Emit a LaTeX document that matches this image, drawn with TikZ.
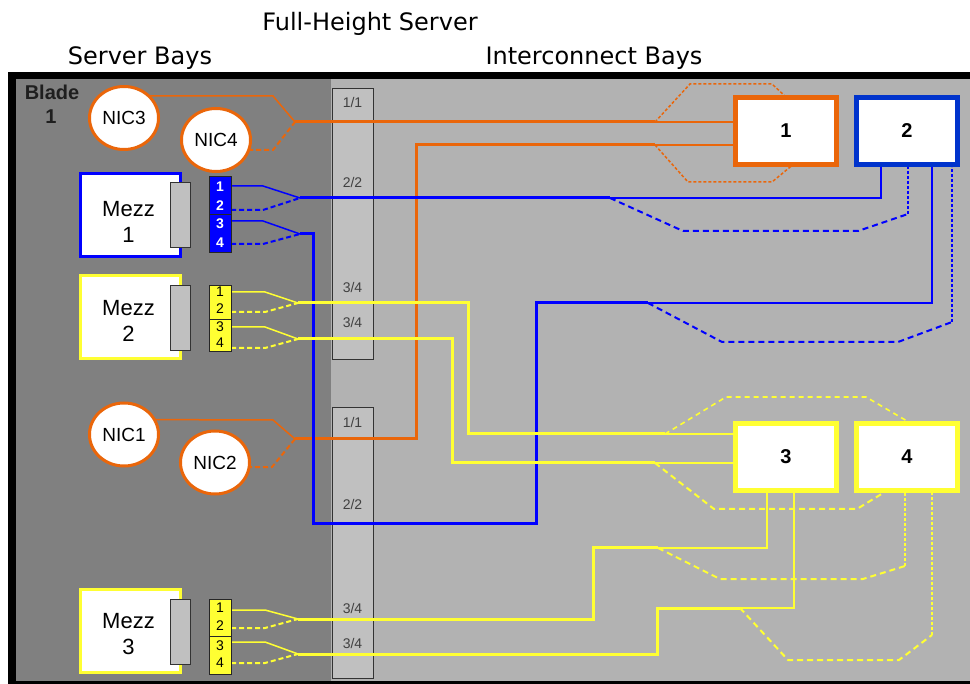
\documentclass[tikz,border=0pt]{standalone}
\usepackage{fontspec}
\setmainfont{Liberation Sans}
\newfontfamily\titlefont{DejaVu Sans}
\usetikzlibrary{shapes.geometric}
\pgfdeclarelayer{bg}
\pgfdeclarelayer{wires}
\pgfsetlayers{bg,wires,main}
\definecolor{orng}{RGB}{234,102,10}
\definecolor{bluL}{RGB}{0,0,255}
\definecolor{bluB}{RGB}{0,51,204}
\definecolor{yel}{RGB}{255,255,51}
\definecolor{dgray}{RGB}{128,128,128}
\definecolor{lgray}{RGB}{178,178,178}
\definecolor{sgray}{RGB}{192,192,192}
\tikzset{
  title/.style={inner sep=0pt, font=\titlefont\fontsize{24}{24}\selectfont},
  bladetxt/.style={inner sep=0pt, text=black!88, font=\bfseries\fontsize{20}{20}\selectfont},
  nic/.style={ellipse, draw=orng, line width=3pt, fill=white, minimum width=69pt, minimum height=63pt, inner sep=0pt, font=\fontsize{19}{19}\selectfont},
  mezzbox/.style={rectangle, line width=3pt, fill=white, minimum width=100pt, minimum height=83pt, inner sep=0pt},
  mezztxt/.style={inner sep=0pt, align=center, font=\fontsize{22}{26}\selectfont},
  mezzconn/.style={rectangle, draw=black!80, fill=sgray, line width=1pt, minimum width=20pt, minimum height=65pt, inner sep=0pt},
  portblk/.style={rectangle, draw=black!85, line width=1pt, minimum width=22pt, inner sep=0pt},
  portnum/.style={inner sep=0pt, font=\fontsize{14}{14}\selectfont},
  bay/.style={rectangle, line width=5pt, fill=white, minimum width=101pt, minimum height=67pt, inner sep=0pt, font=\bfseries\fontsize{20}{20}\selectfont},
  strip/.style={rectangle, draw=black!80, fill=sgray, line width=1pt, minimum width=41pt, minimum height=271pt, inner sep=0pt},
  striplbl/.style={inner sep=0pt, text=black!75, font=\fontsize{14}{14}\selectfont},
  thk/.style={line width=3pt},
  thn/.style={line width=1.5pt},
  pdash/.style={line width=2pt, dash pattern=on 5pt off 3pt},
  fdash/.style={line width=2pt, dash pattern=on 6pt off 4pt},
  mdash/.style={line width=1.6pt, dash pattern=on 5pt off 4pt},
  vdash/.style={line width=1.4pt, dash pattern=on 3pt off 2pt},
  odot/.style={line width=1.5pt, dash pattern=on 3pt off 2pt}
}
\begin{document}
\begin{tikzpicture}[x=1pt,y=-1pt]
\useasboundingbox (0,0) rectangle (970,684);
\begin{pgfonlayer}{bg}
  \fill[white] (0,0) rectangle (970,684);
  \fill[black] (8,72) rectangle (970,684);
  \fill[dgray] (16,79) rectangle (331,681);
  \fill[lgray] (331,79) rectangle (970,681);
  \node[strip] (stripA) at (352.5,224) {};
  \node[strip] (stripB) at (352.5,543) {};
\end{pgfonlayer}

% titles
\node[title, anchor=base] (tfull) at (370,31) {Full-Height Server};
\node[title, anchor=base] (tsrv) at (140,65) {Server Bays};
\node[title, anchor=base] (tic) at (594,65) {Interconnect Bays};
\node[bladetxt, anchor=base] (blade) at (52,100) {Blade};
\node[bladetxt, anchor=base] (bladen) at (51,124) {1};

% strip labels
\node[striplbl] (s1) at (352.5,102) {1/1};
\node[striplbl] (s2) at (352.5,182) {2/2};
\node[striplbl] (s3) at (352.5,287) {3/4};
\node[striplbl] (s4) at (352.5,322) {3/4};
\node[striplbl] (s5) at (352.5,422) {1/1};
\node[striplbl] (s6) at (352.5,504) {2/2};
\node[striplbl] (s7) at (352.5,608) {3/4};
\node[striplbl] (s8) at (352.5,643) {3/4};

% NICs
\node[nic] (nic3) at (124,118) {NIC3};
\node[nic] (nic4) at (216,140) {NIC4};
\node[nic] (nic1) at (124,434.5) {NIC1};
\node[nic] (nic2) at (215,462.5) {NIC2};

% Mezz cards
\node[mezzbox, draw=bluL] (mezz1) at (130.5,215) {};
\node[mezztxt] (mezz1t) at (128.5,221.5) {Mezz\\1};
\node[mezzconn] (conn1) at (180.5,215) {};
\node[mezzbox, draw=yel] (mezz2) at (130.5,317.5) {};
\node[mezztxt] (mezz2t) at (128.5,320.5) {Mezz\\2};
\node[mezzconn] (conn2) at (180.5,318) {};
\node[mezzbox, draw=yel] (mezz3) at (130.5,631) {};
\node[mezztxt] (mezz3t) at (128.5,634) {Mezz\\3};
\node[mezzconn] (conn3) at (180.5,632) {};

% port blocks
\node[portblk, fill=bluL, minimum height=38pt] (pb1a) at (220,196) {};
\node[portblk, fill=bluL, minimum height=38pt] (pb1b) at (220,234) {};
\node[portblk, fill=yel, minimum height=34pt] (pb2a) at (220,303) {};
\node[portblk, fill=yel, minimum height=32pt] (pb2b) at (220,336) {};
\node[portblk, fill=yel, minimum height=37pt] (pb3a) at (220,617.5) {};
\node[portblk, fill=yel, minimum height=38pt] (pb3b) at (220,655) {};
\node[portnum, text=white, font=\bfseries\fontsize{14}{14}\selectfont] (n11) at (220,187) {1};
\node[portnum, text=white, font=\bfseries\fontsize{14}{14}\selectfont] (n12) at (220,205.5) {2};
\node[portnum, text=white, font=\bfseries\fontsize{14}{14}\selectfont] (n13) at (220,224) {3};
\node[portnum, text=white, font=\bfseries\fontsize{14}{14}\selectfont] (n14) at (220,243) {4};
\node[portnum] (n21) at (220,292) {1};
\node[portnum] (n22) at (220,309) {2};
\node[portnum] (n23) at (220,327) {3};
\node[portnum] (n24) at (220,343) {4};
\node[portnum] (n31) at (220,608) {1};
\node[portnum] (n32) at (220,626) {2};
\node[portnum] (n33) at (220,646) {3};
\node[portnum] (n34) at (220,663) {4};

% interconnect bays
\node[bay, draw=orng] (bay1) at (786,131) {1};
\node[bay, draw=bluB] (bay2) at (907,131) {2};
\node[bay, draw=yel] (bay3) at (786,457) {3};
\node[bay, draw=yel] (bay4) at (907,457) {4};

% coordinates
\coordinate (jo1) at (295,122); \coordinate (ko1) at (655,122);
\coordinate (jo2) at (295,439); \coordinate (ko2) at (655,145);
\coordinate (m1p1) at (231,186); \coordinate (m1p2) at (231,210);
\coordinate (m1p3) at (231,221); \coordinate (m1p4) at (231,244);
\coordinate (jb1) at (300,198); \coordinate (kb1) at (610,198);
\coordinate (jb2) at (300,234); \coordinate (kb2) at (648,303);
\coordinate (qb1) at (908,214); \coordinate (qb2) at (952,322);
\coordinate (m2p1) at (231,292); \coordinate (m2p2) at (231,312);
\coordinate (m2p3) at (231,327); \coordinate (m2p4) at (231,348);
\coordinate (m3p1) at (231,610); \coordinate (m3p2) at (231,628);
\coordinate (m3p3) at (231,642); \coordinate (m3p4) at (231,663);
\coordinate (jy1) at (298,303); \coordinate (ky1) at (665,434);
\coordinate (jy2) at (298,339); \coordinate (ky2) at (655,463);
\coordinate (jy3) at (298,619); \coordinate (ky3) at (658,548);
\coordinate (jy4) at (298,654); \coordinate (ky4) at (740,608);
\coordinate (qy3) at (905,566); \coordinate (qy4) at (932,635);

\begin{pgfonlayer}{wires}
  % orange
  \draw[orng,thn] (nic3.center) ++(0,-22) -- (273,96) -- (jo1);
  \draw[orng,pdash] (nic4.center) ++(0,10) -- (273,150) -- (jo1);
  \draw[orng,thk] (jo1) -- (ko1);
  \draw[orng,thn] (ko1) -- (ko1 -| bay1.west);
  \draw[orng,odot] (ko1) -- (690,84) -- (772,84) -- (786,97);
  \draw[orng,thn] (nic1.center) ++(0,-15) -- (273,420) -- (jo2);
  \draw[orng,pdash] (nic2.center) ++(0,5) -- (272,467) -- (jo2);
  \draw[orng,thk] (jo2) -- (416,439) -- (416,145) -- (ko2);
  \draw[orng,thn] (ko2) -- (ko2 -| bay1.west);
  \draw[orng,odot] (ko2) -- (688,182) -- (772,182) -- (795,163);
  % blue
  \draw[bluL,thn] (m1p1) -- (263,186) -- (jb1);
  \draw[bluL,pdash] (m1p2) -- (263,210) -- (jb1);
  \draw[bluL,thk] (jb1) -- (kb1);
  \draw[bluL,thn] (kb1) -| ([xshift=-26pt]bay2.south);
  \draw[bluL,fdash] (kb1) -- (683,231) -- (858,231) -- (qb1);
  \draw[bluL,vdash] (qb1) -- (qb1 |- bay2.south);
  \draw[bluL,thn] (m1p3) -- (263,221) -- (jb2);
  \draw[bluL,pdash] (m1p4) -- (263,244) -- (jb2);
  \draw[bluL,thk] (jb2) -- (313,234) -- (313,524) -- (536,524) -- (536,303) -- (kb2);
  \draw[bluL,thn] (kb2) -| ([xshift=25pt]bay2.south);
  \draw[bluL,fdash] (kb2) -- (722,342) -- (898,342) -- (qb2);
  \draw[bluL,vdash] (qb2) -- (qb2 |- bay2.south);
  % yellow
  \draw[yel,thn] (m2p1) -- (265,292) -- (jy1);
  \draw[yel,pdash] (m2p2) -- (265,312) -- (jy1);
  \draw[yel,thk] (jy1) -- (468,303) -- (468,434) -- (ky1);
  \draw[yel,thn] (ky1) -- (ky1 -| bay3.west);
  \draw[yel,mdash] (ky1) -- (726,397) -- (866,397) -- (907,421);
  \draw[yel,thn] (m2p3) -- (265,327) -- (jy2);
  \draw[yel,pdash] (m2p4) -- (265,348) -- (jy2);
  \draw[yel,thk] (jy2) -- (452,339) -- (452,463) -- (ky2);
  \draw[yel,thn] (ky2) -- (ky2 -| bay3.west);
  \draw[yel,fdash] (ky2) -- (714,509) -- (857,509) -- (888,490);
  \draw[yel,thn] (m3p1) -- (265,610) -- (jy3);
  \draw[yel,pdash] (m3p2) -- (265,628) -- (jy3);
  \draw[yel,thk] (jy3) -- (593,619) -- (593,548) -- (ky3);
  \draw[yel,thn] (ky3) -| ([xshift=-19pt]bay3.south);
  \draw[yel,fdash] (ky3) -- (720,579) -- (863,579) -- (qy3);
  \draw[yel,vdash] (qy3) -- (qy3 |- bay4.south);
  \draw[yel,thn] (m3p3) -- (265,642) -- (jy4);
  \draw[yel,pdash] (m3p4) -- (265,663) -- (jy4);
  \draw[yel,thk] (jy4) -- (657,654) -- (657,608) -- (ky4);
  \draw[yel,thn] (ky4) -| ([xshift=8pt]bay3.south);
  \draw[yel,fdash] (ky4) -- (788,660) -- (899,660) -- (qy4);
  \draw[yel,vdash] (qy4) -- (qy4 |- bay4.south);
\end{pgfonlayer}
\end{tikzpicture}
\end{document}
